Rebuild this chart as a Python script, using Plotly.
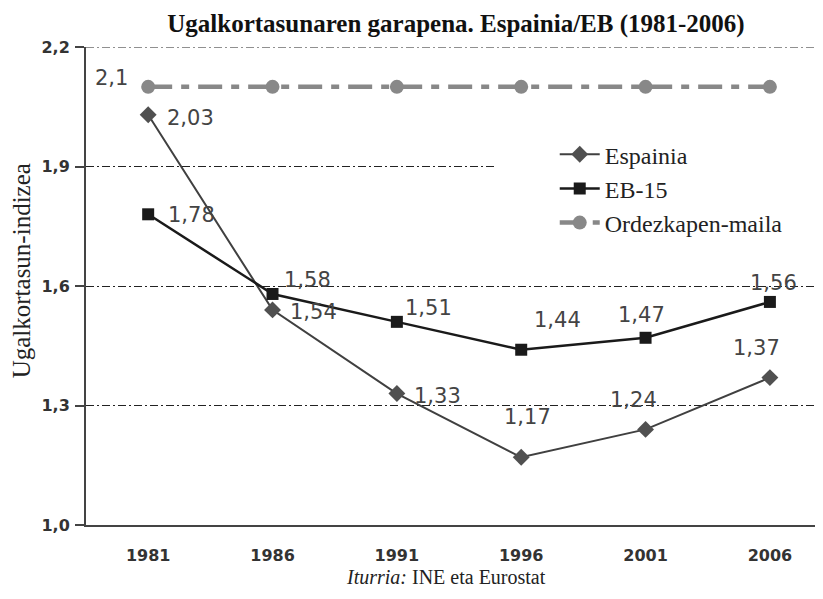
import plotly.graph_objects as go

# ---- data ----
years = ["1981", "1986", "1991", "1996", "2001", "2006"]
espainia = [2.03, 1.54, 1.33, 1.17, 1.24, 1.37]
eb15 = [1.78, 1.58, 1.51, 1.44, 1.47, 1.56]
ordezkapen = [2.1, 2.1, 2.1, 2.1, 2.1, 2.1]
y_ticks = [1.0, 1.3, 1.6, 1.9, 2.2]

title_text = "Ugalkortasunaren garapena. Espainia/EB (1981-2006)"
y_title = "Ugalkortasun-indizea"
source_text = "<i>Iturria:</i> INE eta Eurostat"

# ---- label offsets (pixels: dx right, dy up) ----
esp_off = [(42, -3), (41, -2), (41, -2), (6, 40), (-12, 29), (-13, 30)]
eb_off = [(43, -1), (35, 14), (32, 14), (36, 30), (-4, 23), (4, 19)]
ord_off = [(-37, 9)]

# page body has an 8px margin; figure sized to fit the window
OFF = 8
W, H = 823 - OFF, 599 - OFF
L, R, T, B = 86 - OFF, 0, 47 - OFF, 74

GRID_DASH = "8px,3px,2px,3px"
GRID_COLOR = "#222222"

fig = go.Figure()

fig.add_trace(go.Scatter(
    x=years, y=espainia, name="Espainia", mode="lines+markers",
    line=dict(color="#404040", width=2),
    marker=dict(symbol="diamond", size=13, color="#505050"),
))
fig.add_trace(go.Scatter(
    x=years, y=eb15, name="EB-15", mode="lines+markers",
    line=dict(color="#1a1a1a", width=2.5),
    marker=dict(symbol="square", size=12, color="#1a1a1a"),
))
fig.add_trace(go.Scatter(
    x=years, y=ordezkapen, name="Ordezkapen-maila", mode="lines+markers",
    line=dict(color="#888888", width=4.5, dash="24px,9px,8px,9px"),
    marker=dict(symbol="circle", size=14, color="#888888"),
))

def fmt(v, nd=2):
    return (f"{v:.{nd}f}").replace(".", ",")

ann = []
lab_font = dict(family="DejaVu Sans", size=21, color="#444444")
for i, (v, (dx, dy)) in enumerate(zip(espainia, esp_off)):
    ann.append(dict(x=i, y=v, xref="x", yref="y", text=fmt(v), showarrow=False,
                    xanchor="center", yanchor="middle", xshift=dx, yshift=dy, font=lab_font))
for i, (v, (dx, dy)) in enumerate(zip(eb15, eb_off)):
    ann.append(dict(x=i, y=v, xref="x", yref="y", text=fmt(v), showarrow=False,
                    xanchor="center", yanchor="middle", xshift=dx, yshift=dy, font=lab_font))
for i, (v, (dx, dy)) in enumerate(zip(ordezkapen[:1], ord_off)):
    ann.append(dict(x=i, y=v, xref="x", yref="y", text=fmt(v, 1), showarrow=False,
                    xanchor="center", yanchor="middle", xshift=dx, yshift=dy, font=lab_font))

ann.append(dict(x=-0.088, y=0.531, xref="paper", yref="paper", text=y_title,
                showarrow=False, textangle=-90, xanchor="center", yanchor="middle",
                font=dict(family="Liberation Serif", size=25, color="#222222")))
ann.append(dict(x=0.488, y=-0.109, xref="paper", yref="paper", text=source_text,
                showarrow=False, xanchor="center", yanchor="middle",
                font=dict(family="Liberation Serif", size=20, color="#222222")))

shapes = [
    # legend backdrop hiding part of the 1.9 gridline
    dict(type="rect", xref="x", yref="y", x0=2.8, x1=5.6, y0=1.74, y1=1.97,
         fillcolor="white", line=dict(width=0), layer="between"),
    # top gridline at the last tick (plotly omits it at the plot edge)
    dict(type="line", xref="paper", yref="y", x0=0, x1=1, y0=y_ticks[-1], y1=y_ticks[-1],
         line=dict(color=GRID_COLOR, width=1.2, dash=GRID_DASH), layer="below"),
]

fig.update_layout(
    width=W, height=H,
    margin=dict(l=L, r=R, t=T, b=B, autoexpand=False),
    paper_bgcolor="white", plot_bgcolor="white",
    separators=",.",
    title=dict(text="<b>" + title_text + "</b>", x=(456 - OFF) / W, xanchor="center",
               y=1 - (23 - OFF) / H, yanchor="middle",
               font=dict(family="Liberation Serif", size=25, color="#111111")),
    annotations=ann,
    showlegend=True,
    legend=dict(x=0.636, y=0.822, xanchor="left", yanchor="top",
                bgcolor="rgba(0,0,0,0)", borderwidth=0,
                font=dict(family="Liberation Serif", size=24, color="#222222"),
                tracegroupgap=0, itemwidth=40),
    shapes=shapes,
)

fig.update_xaxes(
    type="category", range=[-0.5, 5.427],
    showline=True, linecolor="#444444", linewidth=2,
    showgrid=False, ticks="", ticklabelstandoff=15,
    tickfont=dict(family="DejaVu Sans", size=16, color="#333333", weight="bold"),
)
fig.update_yaxes(
    range=[1.0, 2.2], tickvals=y_ticks, tickformat=".1f",
    showline=True, linecolor="#444444", linewidth=2,
    ticks="outside", ticklen=9, tickcolor="#444444", tickwidth=1.5,
    ticklabelstandoff=2,
    showgrid=True, gridcolor=GRID_COLOR, gridwidth=1.2, griddash=GRID_DASH,
    tickfont=dict(family="DejaVu Sans", size=16, color="#333333", weight="bold"),
)

fig.write_html("out.html")
